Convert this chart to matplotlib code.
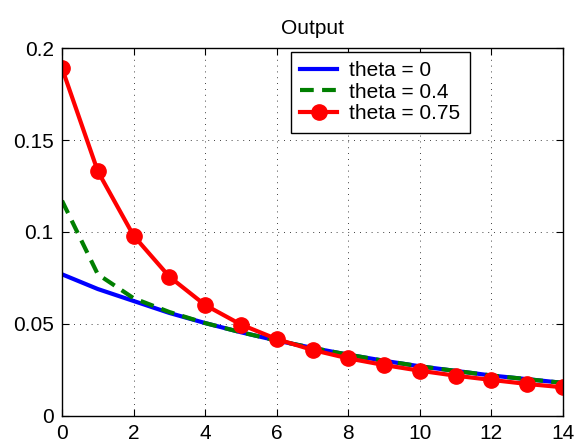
import matplotlib
matplotlib.use('Agg')
import matplotlib.pyplot as plt

plt.rcParams['font.family'] = ['Liberation Sans', 'DejaVu Sans']

# values
x = list(range(15))
theta0 = [0.077, 0.069, 0.0625, 0.056, 0.0505, 0.0455, 0.041, 0.037,
          0.0333, 0.030, 0.027, 0.0245, 0.022, 0.020, 0.018]
theta04 = [0.117, 0.077, 0.064, 0.0565, 0.0505, 0.0455, 0.041, 0.037,
           0.0333, 0.030, 0.027, 0.0245, 0.022, 0.020, 0.018]
theta075 = [0.189, 0.133, 0.098, 0.0757, 0.0603, 0.0497, 0.0418, 0.0359,
            0.0313, 0.0277, 0.0246, 0.0219, 0.0196, 0.0174, 0.0156]
labels = ['theta = 0', 'theta = 0.4', 'theta = 0.75']
xticks = [0, 2, 4, 6, 8, 10, 12, 14]
yticks = [0, 0.05, 0.1, 0.15, 0.2]
yticklabels = ['0', '0.05', '0.1', '0.15', '0.2']

fig = plt.figure(figsize=(5.77, 4.47), dpi=100)
ax = fig.add_axes([0.1075, 0.0694, 0.8682, 0.8232])

ax.plot(x, theta0, color='#0000ff', lw=3, label=labels[0])
ax.plot(x, theta04, color='#007f00', lw=3, dashes=(3.3, 2.0), label=labels[1])
ax.plot(x, theta075, color='#ff0000', lw=3, marker='o', markersize=11,
        label=labels[2])

ax.set_xlim(0, 14)
ax.set_ylim(0, 0.2)
ax.set_xticks(xticks)
ax.set_yticks(yticks)
ax.set_yticklabels(yticklabels)
ax.tick_params(direction='in', length=5, width=0.8, top=True, right=True,
               labelsize=15, pad=6)
ax.grid(True, color='k', lw=0.6, dashes=(1, 6))
for s in ax.spines.values():
    s.set_linewidth(1.0)

ax.set_title('Output', fontsize=15, pad=10)

leg = ax.legend(loc='upper left', bbox_to_anchor=(0.457, 0.99), fontsize=15,
                frameon=True, fancybox=False, edgecolor='k', framealpha=1,
                handlelength=1.75, handletextpad=0.6, labelspacing=0.13,
                borderpad=0.45, borderaxespad=0)
leg.get_frame().set_linewidth(1.0)

fig.savefig('out.png', dpi=100)
